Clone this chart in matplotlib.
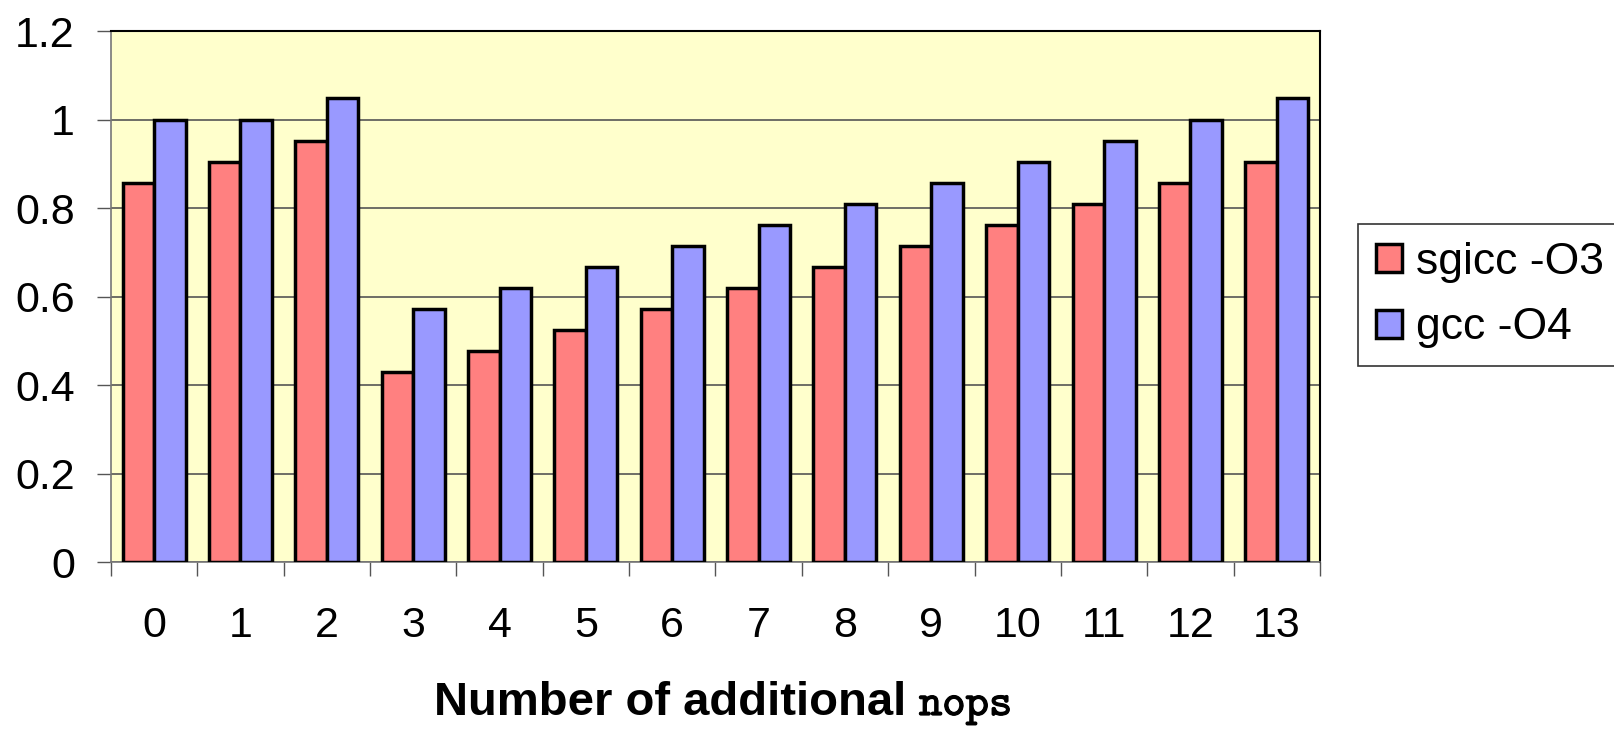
import matplotlib.pyplot as plt
import matplotlib.patheffects as pe
import numpy as np

plt.rcParams['font.family'] = ['Liberation Sans', 'DejaVu Sans']

nops = [0, 1, 2, 3, 4, 5, 6, 7, 8, 9, 10, 11, 12, 13]
sgicc_o3 = [18/21, 19/21, 20/21, 9/21, 10/21, 11/21, 12/21, 13/21,
            14/21, 15/21, 16/21, 17/21, 18/21, 19/21]
gcc_o4 = [21/21, 21/21, 22/21, 12/21, 13/21, 14/21, 15/21, 16/21,
          17/21, 18/21, 19/21, 20/21, 21/21, 22/21]

fig = plt.figure(figsize=(16.15, 7.3), dpi=100)
ax = fig.add_axes([0.0687, 0.2301, 0.7486, 0.7274])
ax.set_facecolor("#FFFFCC")

x = np.arange(len(nops))
w = 0.365
ax.bar(x - w/2, sgicc_o3, w, color="#FF8080", edgecolor="black", linewidth=2.5,
       label="sgicc -O3", zorder=3)
ax.bar(x + w/2, gcc_o4, w, color="#9999FF", edgecolor="black", linewidth=2.5,
       label="gcc -O4", zorder=3)

ax.set_xlim(-0.5, 13.5)
ax.set_ylim(0, 1.2)
ax.set_yticks([0, 0.2, 0.4, 0.6, 0.8, 1, 1.2])
ax.set_yticklabels(["0", "0.2", "0.4", "0.6", "0.8", "1", "1.2"])
ax.set_xticks(x)
ax.set_xticklabels([str(n) for n in nops])
ax.set_xticks(np.arange(-0.5, 14, 1), minor=True)

ax.yaxis.grid(True, color="#555555", linewidth=1.2, zorder=1)
ax.set_axisbelow(True)

ax.tick_params(axis="y", direction="out", length=10, width=1, color="#555555",
               labelsize=31, pad=16)
ax.tick_params(axis="x", which="major", length=0, labelsize=31, pad=32)
ax.tick_params(axis="x", which="minor", direction="out", length=10, width=1,
               color="#555555")

for side in ["top", "right"]:
    ax.spines[side].set_color("black")
    ax.spines[side].set_linewidth(1.5)
for side in ["left", "bottom"]:
    ax.spines[side].set_color("#777777")
    ax.spines[side].set_linewidth(1.2)

# axis title: bold sans text followed by typewriter "nops"
fig.text(0.5690, 0.0205, "Number of additional ", ha="right", va="baseline",
         fontsize=34, fontweight="bold")
fig.text(0.5690, 0.0205, r"$\mathtt{nops}$", ha="left", va="baseline",
         fontsize=32, math_fontfamily="cm",
         path_effects=[pe.withStroke(linewidth=0.8, foreground="black")])

leg = fig.legend(loc="upper left", bbox_to_anchor=(0.8409, 0.693),
                 fontsize=32, frameon=True, fancybox=False, edgecolor="black",
                 handlelength=0.6, handleheight=0.6, handletextpad=0.3,
                 borderpad=0.4, labelspacing=0.55, borderaxespad=0)
leg.get_frame().set_linewidth(1.2)

fig.savefig("out.png", dpi=100)
